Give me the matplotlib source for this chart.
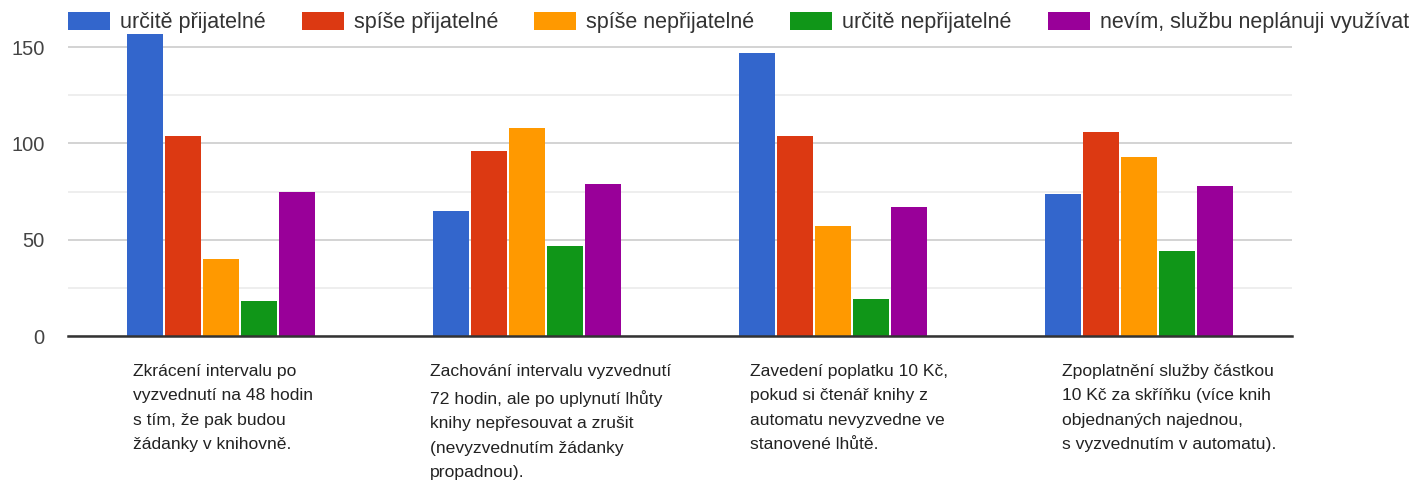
import numpy as np
import matplotlib
matplotlib.use("Agg")
import matplotlib.pyplot as plt
from matplotlib.ticker import MultipleLocator
from matplotlib.transforms import blended_transform_factory

plt.rcParams['font.family'] = ['Liberation Sans', 'DejaVu Sans']

# data
categories = [
    "Zkrácení intervalu po\nvyzvednutí na 48 hodin\ns tím, že pak budou\nžádanky v knihovně.",
    "Zachování intervalu vyzvednutí\n72 hodin, ale po uplynutí lhůty\nknihy nepřesouvat a zrušit\n(nevyzvednutím žádanky\npropadnou).",
    "Zavedení poplatku 10 Kč,\npokud si čtenář knihy z\nautomatu nevyzvedne ve\nstanovené lhůtě.",
    "Zpoplatnění služby částkou\n10 Kč za skříňku (více knih\nobjednaných najednou,\ns vyzvednutím v automatu).",
]
series_names = ["určitě přijatelné", "spíše přijatelné", "spíše nepřijatelné",
                "určitě nepřijatelné", "nevím, službu neplánuji využívat"]
urcite_prij = [157, 65, 147, 74]
spise_prij = [104, 96, 104, 106]
spise_neprij = [40, 108, 57, 93]
urcite_neprij = [18, 47, 19, 44]
nevim = [75, 79, 67, 78]
series = [urcite_prij, spise_prij, spise_neprij, urcite_neprij, nevim]
colors = ["#3366cc", "#dc3912", "#ff9900", "#109618", "#990099"]

fig = plt.figure(figsize=(14.25, 4.86), dpi=100)
ax = fig.add_axes([68 / 1425, 0.3086, 1224 / 1425, 0.626])

x = np.arange(len(categories))
step = 0.124
width = 0.12
for i, (vals, col, name) in enumerate(zip(series, colors, series_names)):
    ax.bar(x + (i - 2) * step, vals, width, color=col, label=name, zorder=3)

ax.set_xlim(-0.5, 3.5)
ax.set_ylim(0, 158)
ax.yaxis.set_major_locator(MultipleLocator(50))
ax.yaxis.set_minor_locator(MultipleLocator(25))
ax.grid(axis='y', which='major', color='#cccccc', lw=1.2, zorder=0)
ax.grid(axis='y', which='minor', color='#ebebeb', lw=1.2, zorder=0)
for s in ['top', 'right', 'left']:
    ax.spines[s].set_visible(False)
ax.spines['bottom'].set_color('#333333')
ax.spines['bottom'].set_linewidth(1.8)
ax.spines['bottom'].set_zorder(4)
ax.set_xticks([])
ax.tick_params(axis='y', which='both', length=0, labelsize=14.5, labelcolor='#444444', pad=17)

# category labels under the groups
label_dx = [-0.288, -0.317, -0.27, -0.25]
trans = blended_transform_factory(ax.transData, ax.transAxes)
for xi, lab, dx in zip(x, categories, label_dx):
    ax.text(xi + dx, -0.092, lab, transform=trans, ha='left', va='top',
            fontsize=12.6, color='#222222', linespacing=1.78)

ax.legend(loc='center left', bbox_to_anchor=(0.0, 1.03), ncol=5, frameon=False,
          fontsize=15.5, handlelength=1.95, handleheight=0.88, handletextpad=0.47,
          columnspacing=1.67, labelcolor='#333333', borderaxespad=0, borderpad=0)

fig.savefig("out.png", dpi=100)
